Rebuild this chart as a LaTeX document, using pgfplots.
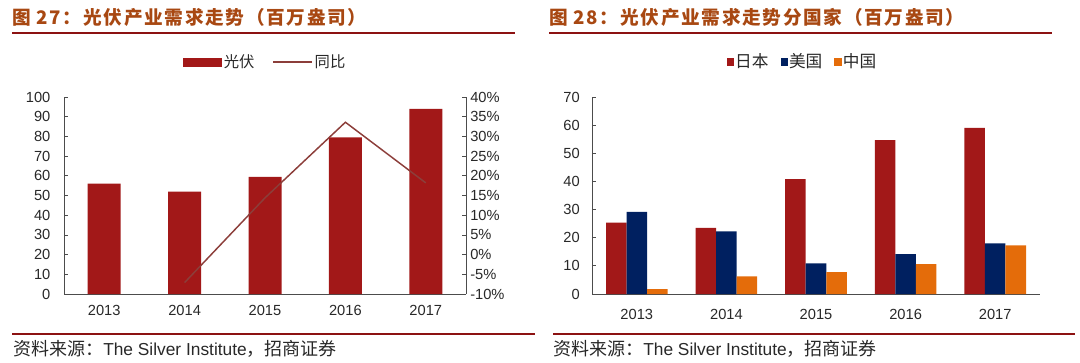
\documentclass[border=0pt]{standalone}
\usepackage{pgfplots}
\pgfplotsset{compat=1.18}
\usepackage{fontspec}
\setmainfont{Liberation Sans}
\newfontfamily\cjk{Noto Sans CJK SC}
\newfontfamily\cjktitle[LetterSpace=9]{Noto Sans CJK SC}
\definecolor{barred}{RGB}{162,24,24}
\definecolor{linebrown}{RGB}{140,62,58}
\definecolor{navy}{RGB}{0,32,96}
\definecolor{orng}{RGB}{228,108,10}
\definecolor{titlec}{RGB}{168,72,18}
\definecolor{rulec}{RGB}{140,18,18}
\definecolor{txt}{RGB}{40,40,40}
\pgfplotsset{
  common/.style={
    scale only axis, height=147.75pt,
    xmin=-0.5, xmax=4.5,
    tick align=inside, major tick length=3pt,
    every tick/.style={black!70, line width=0.6pt},
    axis line style={black!70, line width=0.6pt},
    ticklabel style={font=\fontsize{11}{11}\selectfont, text=txt},
    /pgf/number format/assume math mode=true,
  }
}
\begin{document}
\begin{tikzpicture}
\begin{scope}[x=0.75pt,y=-0.75pt]
\path (0,0) rectangle (1080,362);
\node[anchor=west,inner sep=0pt,text=titlec,font=\cjktitle\bfseries\fontsize{14}{14}\selectfont] at (12,17) {图 27：光伏产业需求走势（百万盎司）};
\node[anchor=west,inner sep=0pt,text=titlec,font=\cjktitle\bfseries\fontsize{14}{14}\selectfont] at (549,17) {图 28：光伏产业需求走势分国家（百万盎司）};
\draw[rulec,line width=1.5pt] (12,33) -- (515,33);
\draw[rulec,line width=1.5pt] (549,33) -- (1052,33);
\draw[rulec,line width=1.5pt] (12,333.5) -- (535,333.5);
\draw[rulec,line width=1.5pt] (553,333.5) -- (1075,333.5);
\node[anchor=west,inner sep=0pt,text=txt,font=\fontsize{13}{13}\selectfont] at (13,349) {{\cjk\fontsize{13.5}{13.5}\selectfont 资料来源：}The Silver Institute{\cjk\fontsize{13.5}{13.5}\selectfont ，招商证券}};
\node[anchor=west,inner sep=0pt,text=txt,font=\fontsize{13}{13}\selectfont] at (553,349) {{\cjk\fontsize{13.5}{13.5}\selectfont 资料来源：}The Silver Institute{\cjk\fontsize{13.5}{13.5}\selectfont ，招商证券}};
\end{scope}

% ---------- left chart: bars ----------
\begin{axis}[common,
  at={(48pt,-220.5pt)}, anchor=south west, width=301.5pt,
  ymin=0, ymax=100, ytick={0,10,...,100},
  axis x line*=bottom, axis y line*=left,
  xtick={0,1,2,3,4}, xticklabels={2013,2014,2015,2016,2017},
  minor xtick={0.5,1.5,2.5,3.5}, minor tick length=4pt,
  xtick style={draw=none}, minor x tick style={black!70},
  xticklabel style={inner sep=0pt, yshift=-8pt},
  yticklabel style={inner sep=0pt, xshift=-10pt},
]
\addplot[ybar, bar width=24.75pt, fill=barred, draw=none] coordinates {
  (0,56) (1,52) (2,59.5) (3,79.5) (4,94)
};
\end{axis}

% ---------- left chart: line ----------
\begin{axis}[common,
  at={(48pt,-220.5pt)}, anchor=south west, width=301.5pt,
  ymin=-10, ymax=40, ytick={-10,-5,...,40},
  yticklabels={-10\%,-5\%,0\%,5\%,10\%,15\%,20\%,25\%,30\%,35\%,40\%},
  axis y line*=right, axis x line=none,
  yticklabel style={inner sep=0pt, xshift=3pt},
  legend columns=2,
  legend style={draw=none, fill=none, at={(0.5,1.178)}, anchor=center,
    font=\cjk\fontsize{11.5}{11.5}\selectfont, text=txt,
    /tikz/every even column/.append style={column sep=12pt},
    nodes={inner sep=1.5pt}},
]
\addlegendimage{legend image code/.code={\fill[barred] (0pt,-3pt) rectangle (29pt,3pt);}}
\addlegendentry{光伏}
\addplot[linebrown, line width=1.1pt, mark=none,
  legend image code/.code={\draw[linebrown,line width=1.1pt] (0pt,0pt) -- (29pt,0pt);}]
  coordinates {(1,-7.1) (2,14.4) (3,33.6) (4,18.2)};
\addlegendentry{同比}
\end{axis}

% ---------- right chart ----------
\begin{axis}[common,
  at={(444pt,-220.5pt)}, anchor=south west, width=336pt,
  ymin=0, ymax=70, ytick={0,10,...,70},
  axis x line*=bottom, axis y line*=left,
  xtick={0,1,2,3,4}, xticklabels={2013,2014,2015,2016,2017},
  minor xtick={0.5,1.5,2.5,3.5}, minor tick length=4pt,
  xtick style={draw=none}, minor x tick style={black!70},
  xticklabel style={inner sep=0pt, yshift=-8pt},
  yticklabel style={inner sep=0pt, xshift=-9pt},
  ybar=0pt, bar width=15.4pt,
  legend columns=3,
  legend image code/.code={\fill[#1] (0pt,-2.7pt) rectangle (5.4pt,2.7pt);},
  legend style={draw=none, fill=none, at={(0.469,1.178)}, anchor=center,
    font=\cjk\fontsize{12.5}{12.5}\selectfont, text=txt,
    /tikz/every even column/.append style={column sep=8pt},
    nodes={inner sep=1pt}},
]
\addplot[fill=barred, draw=none] coordinates {(0,25.4) (1,23.5) (2,40.8) (3,54.7) (4,59.0)};
\addlegendentry{日本}
\addplot[fill=navy, draw=none] coordinates {(0,29.2) (1,22.3) (2,10.9) (3,14.2) (4,18.0)};
\addlegendentry{美国}
\addplot[fill=orng, draw=none] coordinates {(0,1.7) (1,6.3) (2,7.8) (3,10.6) (4,17.3)};
\addlegendentry{中国}
\end{axis}
\end{tikzpicture}
\end{document}
